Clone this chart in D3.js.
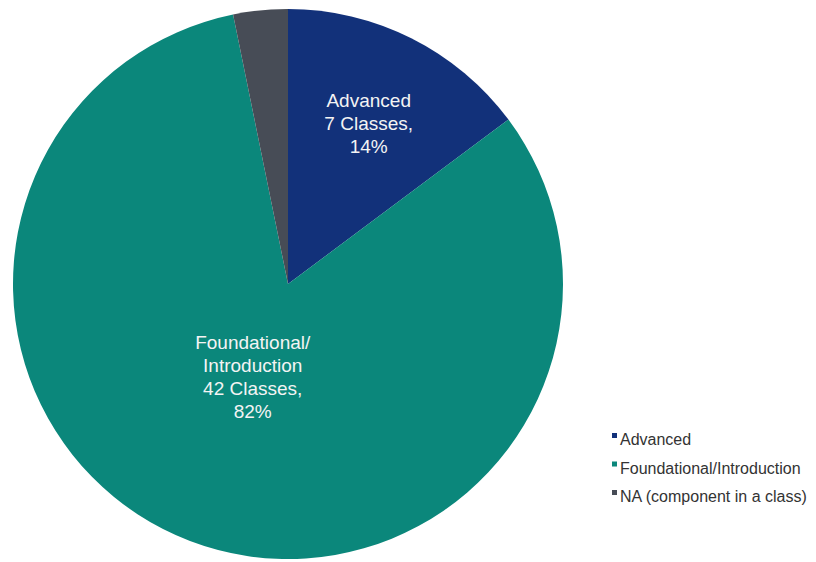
<!DOCTYPE html>
<html>
<head>
<meta charset="utf-8">
<script src="https://cdn.jsdelivr.net/npm/d3@7"></script>
<style>
  body { margin: 0; background: #fff; }
  svg { display: block; font-family: "Liberation Sans", Arial, Helvetica, sans-serif; }
</style>
</head>
<body>
<div id="chart"></div>
<script>
// data
var categories = ["Advanced", "Foundational/Introduction", "NA (component in a class)"];
var shares = [14.8, 82.0, 3.2];          // slice sizes (percent of circle)
var sliceLabels = [
  ["Advanced", "7 Classes,", "14%"],
  ["Foundational/", "Introduction", "42 Classes,", "82%"],
  []
];
var colors = ["#12317a", "#0b877b", "#474c56"];

var w = 816, h = 562,
    cx = 288, cy = 284, radius = 275;

var svg = d3.select("#chart")
            .append("svg")
            .attr("width", w)
            .attr("height", h);

var data = categories.map(function(c, i) {
    return {name: c, value: shares[i], lines: sliceLabels[i], color: colors[i]};
});

var pie = d3.pie()
            .sort(null)
            .value(function(d) { return d.value; });

var arc = d3.arc().innerRadius(0).outerRadius(radius);

var g = svg.append("g").attr("transform", "translate(" + cx + "," + cy + ")");

var arcs = pie(data);

g.selectAll("path")
  .data(arcs)
  .enter()
  .append("path")
  .attr("d", arc)
  .attr("fill", function(d) { return d.data.color; });

// label radius per slice (how far out from center the text block sits)
var labelRadius = [180, 99, 0];
var lineH = 23.3;

arcs.forEach(function(d, i) {
    if (!d.data.lines.length) return;
    var c = d3.arc().innerRadius(labelRadius[i]).outerRadius(labelRadius[i]).centroid(d);
    var n = d.data.lines.length;
    var t = g.append("text")
             .attr("text-anchor", "middle")
             .attr("fill", "#f4f4f4")
             .style("font-size", "19px");
    d.data.lines.forEach(function(line, j) {
        t.append("tspan")
         .attr("x", c[0])
         .attr("y", c[1] + (j - (n - 1) / 2) * lineH + 7)
         .text(line);
    });
});

// legend
var legend = svg.append("g").attr("transform", "translate(612,445)");

var items = legend.selectAll("g")
  .data(data)
  .enter()
  .append("g")
  .attr("transform", function(d, i) { return "translate(0," + (i * 28.5) + ")"; });

items.append("rect")
  .attr("x", 0)
  .attr("y", -12)
  .attr("width", 5)
  .attr("height", 5)
  .attr("fill", function(d) { return d.color; });

items.append("text")
  .attr("x", 8)
  .attr("y", 0)
  .attr("fill", "#333")
  .style("font-size", "16px")
  .text(function(d) { return d.name; });
</script>
</body>
</html>
